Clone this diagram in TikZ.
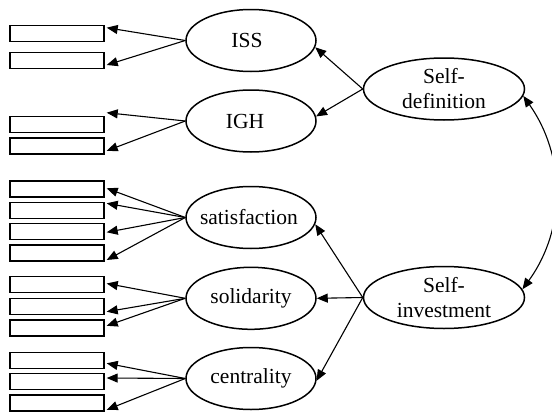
\documentclass[tikz,border=0pt]{standalone}
\usepackage{fontspec}
\setmainfont{Liberation Serif}
\usetikzlibrary{shapes.geometric,arrows.meta,calc}
\tikzset{
  box/.style={draw, line width=1.4pt, rectangle, minimum width=94pt, minimum height=16pt, inner sep=0pt},
  lat/.style={draw, line width=1.5pt, ellipse, minimum width=130pt, minimum height=62pt, inner sep=0pt},
  big/.style={lat, minimum width=161pt, minimum height=62pt},
  txt/.style={font=\fontsize{21.5}{25}\selectfont, align=center},
  tip/.style={Triangle[length=11pt,width=9pt]},
  arr/.style={line width=1.1pt, -{Triangle[length=11pt,width=9pt]}},
  darr/.style={line width=1.1pt, {Triangle[length=11pt,width=9pt]}-{Triangle[length=11pt,width=9pt]}}
}
\begin{document}
\begin{tikzpicture}[x=1pt,y=-1pt]
\useasboundingbox (0,0) rectangle (552,415);
% boxes
\node[box] (b1) at (57,33.7) {};
\node[box] (b2) at (57,60.7) {};
\node[box] (b3) at (57,124.7) {};
\node[box] (b4) at (57,145.8) {};
\node[box] (b5) at (57,189) {};
\node[box] (b6) at (57,210.3) {};
\node[box] (b7) at (57,231.7) {};
\node[box] (b8) at (57,253) {};
\node[box] (b9) at (57,284.5) {};
\node[box] (b10) at (57,306.7) {};
\node[box] (b11) at (57,327.8) {};
\node[box] (b12) at (57,360.3) {};
\node[box] (b13) at (57,381.5) {};
\node[box] (b14) at (57,402.8) {};
% first-order latents
\node[lat, label={[txt,xshift=-4pt]center:ISS}] (iss) at (251,40.5) {};
\node[lat, label={[txt,xshift=-6pt]center:IGH}] (igh) at (251,121) {};
\node[lat, label={[txt,xshift=-2pt]center:satisfaction}] (sat) at (251,217.5) {};
\node[lat, label={[txt]center:solidarity}] (sol) at (251,298.3) {};
\node[lat, label={[txt]center:centrality}] (cen) at (251,378.5) {};
% second-order latents
\node[big, label={[txt]center:Self-\\definition}] (sd) at (444,89) {};
\node[big, label={[txt]center:Self-\\investment}] (si) at (444,297.5) {};
% indicator arrows
\draw[arr] (iss.west) -- ($(b1.east)+(2,-6)$);
\draw[arr] (iss.west) -- ($(b2.east)+(2,4.3)$);
\draw[arr] (igh.west) -- ($(b3.east)+(2,-12)$);
\draw[arr] (igh.west) -- ($(b4.east)+(2,5)$);
\draw[arr] (sat.west) -- ($(b5.east)+(2,-0.7)$);
\draw[arr] (sat.west) -- ($(b6.east)+(2,-7)$);
\draw[arr] (sat.west) -- ($(b7.east)+(2,0.6)$);
\draw[arr] (sat.west) -- ($(b8.east)+(2,7)$);
\draw[arr] (sol.west) -- ($(b9.east)+(2,-1)$);
\draw[arr] (sol.west) -- ($(b10.east)+(2,5)$);
\draw[arr] (sol.west) -- ($(b11.east)+(2,-2)$);
\draw[arr] (cen.west) -- ($(b12.east)+(2,3)$);
\draw[arr] (cen.west) -- ($(b13.east)+(2,-3.5)$);
\draw[arr] (cen.west) -- ($(b14.east)+(2,7)$);
% second-order arrows
\draw[arr] (sd.west) -- (iss.-6);
\draw[arr] (sd.west) -- (igh.4);
\draw[arr] (si.west) -- (sat.-6);
\draw[arr] (si.west) -- (sol.east);
\draw[arr] (si.west) -- (cen.-2);
% correlation
\draw[darr] (sd.-5) .. controls (565,155) and (567,228) .. (si.6);
\end{tikzpicture}
\end{document}
